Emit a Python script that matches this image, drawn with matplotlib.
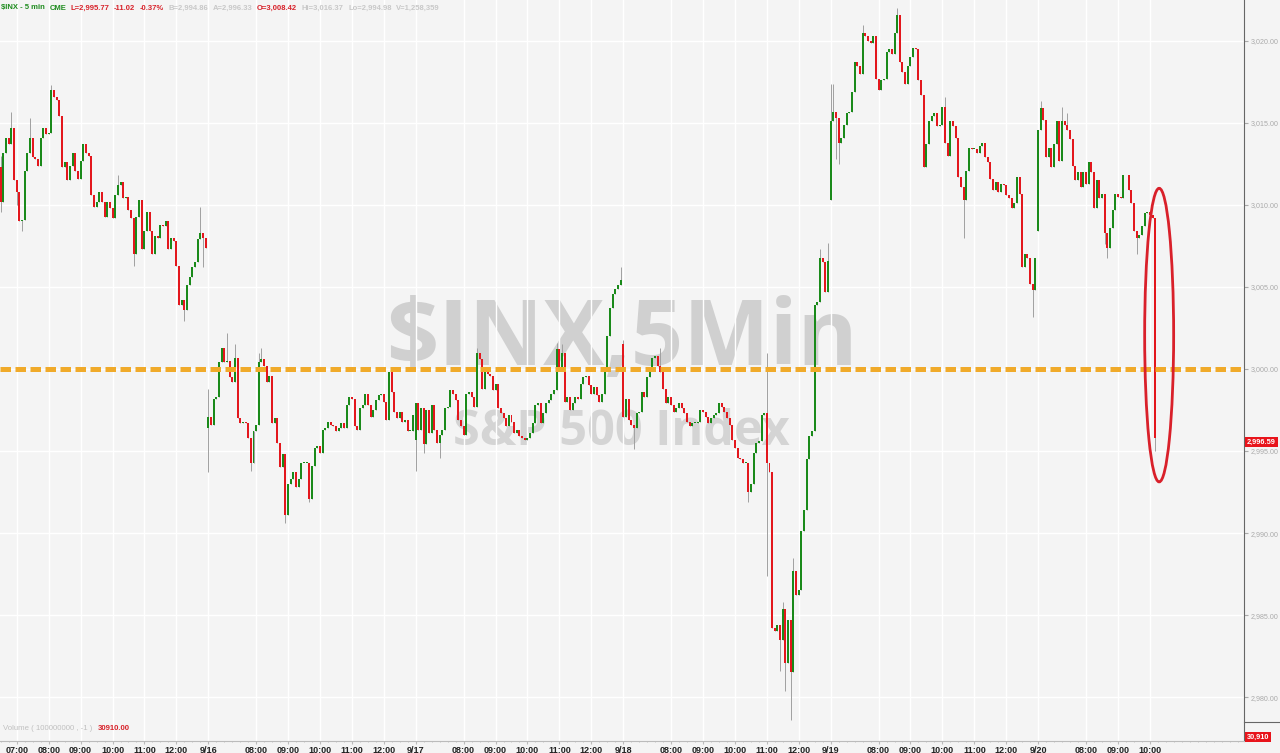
import numpy as np
import matplotlib.pyplot as plt
from matplotlib import font_manager
from matplotlib.patches import Ellipse
from matplotlib.lines import Line2D

plt.rcParams['font.family'] = ['Liberation Sans', 'DejaVu Sans']

# session labels and hour labels on the x axis
day_labels = ['9/13', '9/16', '9/17', '9/18', '9/19', '9/20']
hour_labels = ['07:00', '08:00', '09:00', '10:00', '11:00', '12:00']
hour_bar = [6, 18, 30, 42, 54, 66]   # 5-min bar number inside a session

# opening price of the first bar of each session
day_open = [3012.3, 2996.4, 2995.7, 3001.5, 3010.3, 3008.4]

# 5-min closes, one list per session
close_0913 = [3010.2, 3013.2, 3014.1, 3013.7, 3014.7, 3011.5, 3010.8, 3009.0, 3009.1, 3012.1,
              3013.2, 3014.1, 3012.9, 3012.8, 3012.4, 3014.1, 3014.7, 3014.3, 3014.4, 3017.0,
              3016.6, 3016.4, 3015.4, 3012.3, 3012.6, 3011.5, 3012.4, 3013.2, 3012.1, 3011.6,
              3012.7, 3013.7, 3013.2, 3013.0, 3010.6, 3009.9, 3010.2, 3010.8, 3010.2, 3009.3,
              3010.2, 3009.8, 3009.2, 3010.6, 3011.2, 3011.4, 3010.4, 3010.5, 3009.7, 3009.2,
              3007.0, 3009.3, 3010.3, 3007.3, 3008.4, 3009.6, 3008.4, 3007.0, 3008.1, 3008.0,
              3008.8, 3008.7, 3009.0, 3007.3, 3008.0, 3007.8, 3006.3, 3003.9, 3004.2, 3003.6,
              3005.1, 3005.6, 3006.2, 3006.5, 3007.9, 3008.3, 3008.0, 3007.4]
close_0916 = [2997.1, 2996.6, 2998.2, 2998.3, 3000.4, 3001.3, 3000.4, 3000.5, 2999.5, 2999.2,
              3000.7, 2997.0, 2996.7, 2996.8, 2996.7, 2995.8, 2994.3, 2996.2, 2996.6, 3000.4,
              3000.6, 3000.2, 2999.2, 2999.6, 2996.7, 2997.0, 2995.5, 2994.0, 2994.8, 2991.1,
              2993.0, 2993.3, 2993.7, 2992.8, 2993.3, 2994.3, 2994.3, 2994.3, 2992.1, 2994.1,
              2995.2, 2995.3, 2994.9, 2996.3, 2996.4, 2996.8, 2996.6, 2996.5, 2996.2, 2996.4,
              2996.7, 2996.4, 2997.8, 2998.3, 2998.2, 2996.5, 2996.3, 2997.6, 2997.8, 2998.5,
              2997.8, 2997.1, 2997.5, 2998.1, 2998.4, 2998.5, 2998.0, 2996.9, 2999.8, 2998.6,
              2997.4, 2997.0, 2997.4, 2996.8, 2996.9, 2996.2, 2996.2, 2997.2]
close_0917 = [2997.9, 2996.3, 2997.6, 2995.4, 2997.5, 2996.1, 2997.8, 2996.3, 2995.5, 2996.0,
              2996.3, 2997.6, 2997.7, 2998.7, 2998.5, 2998.1, 2996.9, 2996.5, 2996.0, 2998.5,
              2998.6, 2998.3, 2997.7, 3001.0, 3000.6, 2998.8, 3000.1, 2999.7, 2999.6, 2998.7,
              2999.1, 2997.6, 2997.3, 2997.0, 2996.5, 2997.2, 2996.8, 2996.1, 2996.3, 2995.9,
              2995.8, 2995.7, 2995.8, 2996.1, 2996.7, 2997.8, 2997.9, 2996.7, 2997.3, 2997.9,
              2998.1, 2998.5, 2998.7, 3001.2, 3000.0, 3001.0, 2998.0, 2998.3, 2997.5, 2997.9,
              2998.3, 2998.2, 2999.1, 2999.5, 2999.6, 2999.0, 2998.5, 2998.9, 2998.4, 2998.0,
              2998.5, 3000.1, 3002.0, 3003.7, 3004.6, 3004.9, 3005.1, 3005.4]
close_0918 = [2997.1, 2998.2, 2996.9, 2996.6, 2996.4, 2997.3, 2997.4, 2998.6, 2998.3, 2999.5,
              3000.1, 3000.7, 3000.8, 3000.2, 2999.8, 2998.8, 2997.9, 2998.3, 2997.8, 2997.4,
              2997.6, 2997.9, 2997.6, 2997.3, 2996.8, 2996.5, 2996.7, 2996.7, 2996.8, 2997.5,
              2997.4, 2997.1, 2996.7, 2997.0, 2997.2, 2997.3, 2997.9, 2997.7, 2997.4, 2997.0,
              2996.6, 2995.7, 2995.2, 2994.6, 2994.5, 2994.3, 2994.3, 2992.5, 2993.0, 2994.9,
              2995.5, 2995.6, 2997.2, 2997.3, 2994.3, 2993.7, 2984.2, 2984.0, 2984.4, 2983.5,
              2985.4, 2982.1, 2984.7, 2981.5, 2987.7, 2986.2, 2986.5, 2990.1, 2991.4, 2994.5,
              2995.9, 2996.2, 3003.9, 3004.1, 3006.8, 3006.5, 3004.7, 3006.6]
close_0919 = [3015.1, 3015.7, 3015.3, 3013.8, 3014.1, 3014.9, 3015.6, 3015.7, 3016.9, 3018.7,
              3018.5, 3018.0, 3020.5, 3020.3, 3020.0, 3019.9, 3020.3, 3017.7, 3017.0, 3017.6,
              3017.7, 3019.3, 3019.5, 3019.2, 3020.5, 3021.6, 3018.7, 3018.1, 3017.4, 3018.5,
              3019.0, 3019.6, 3019.5, 3017.6, 3016.7, 3012.3, 3013.7, 3015.1, 3015.4, 3015.6,
              3014.8, 3014.9, 3016.0, 3013.8, 3013.0, 3015.1, 3014.8, 3014.1, 3011.7, 3011.1,
              3010.3, 3012.1, 3013.5, 3013.4, 3013.4, 3013.2, 3013.6, 3013.8, 3012.9, 3012.6,
              3011.6, 3010.9, 3011.4, 3010.8, 3011.3, 3011.2, 3010.6, 3010.4, 3009.8, 3010.1,
              3011.7, 3010.7, 3006.2, 3007.0, 3006.8, 3005.2, 3004.8, 3006.8]
close_0920 = [3014.6, 3015.9, 3015.2, 3012.9, 3013.5, 3012.3, 3013.7, 3015.1, 3012.7, 3015.1,
              3014.9, 3014.6, 3014.0, 3012.4, 3011.5, 3012.0, 3011.1, 3012.0, 3011.3, 3012.6,
              3012.0, 3009.8, 3011.5, 3010.4, 3010.7, 3008.3, 3007.4, 3008.6, 3009.7, 3010.7,
              3010.5, 3010.4, 3011.8, 3011.8, 3010.9, 3010.1, 3008.4, 3008.0, 3008.2, 3008.7,
              3009.5, 3009.6, 3009.4, 3009.2, 2995.77]

# wicks that stick out beyond the body: (session, bar, price)
wick_highs = [(0, 0, 3013.0), (0, 4, 3015.7), (0, 11, 3015.3), (0, 19, 3017.3), (0, 44, 3011.8),
              (0, 75, 3009.9), (1, 0, 2998.8), (1, 7, 3002.2), (1, 10, 3001.5), (1, 19, 3001.0),
              (1, 20, 3001.3), (2, 23, 3001.3), (2, 53, 3001.6), (2, 55, 3001.5), (2, 77, 3006.2),
              (3, 0, 3001.8), (3, 14, 3001.3), (3, 54, 3001.0), (3, 60, 2985.8), (3, 64, 2988.5),
              (3, 74, 3007.3), (3, 77, 3007.7), (4, 0, 3017.4), (4, 1, 3017.4), (4, 12, 3021.0),
              (4, 25, 3022.0), (4, 43, 3016.6), (5, 1, 3016.37), (5, 9, 3016.0), (5, 11, 3015.6)]
wick_lows = [(0, 0, 3009.6), (0, 6, 3010.0), (0, 8, 3008.4), (0, 50, 3006.3), (0, 69, 3002.9),
             (0, 76, 3006.2), (1, 0, 2993.7), (1, 16, 2993.8), (1, 29, 2990.6), (1, 38, 2991.9),
             (2, 0, 2993.8), (2, 3, 2994.9), (2, 9, 2994.6), (3, 4, 2995.1), (3, 47, 2991.9),
             (3, 54, 2987.4), (3, 59, 2981.6), (3, 61, 2980.4), (3, 63, 2978.6), (4, 2, 3012.8),
             (4, 3, 3012.5), (4, 50, 3008.0), (4, 76, 3003.2), (5, 25, 3007.6), (5, 26, 3006.8),
             (5, 37, 3007.0), (5, 44, 2994.98)]

ref_level = 3000.0
last_label = '2,996.59'
volume_label = '30,910'

header_text = ['$INX - 5 min', 'CME', 'L=2,995.77', '-11.02', '-0.37%', 'B=2,994.86',
               'A=2,996.33', 'O=3,008.42', 'Hi=3,016.37', 'Lo=2,994.98', 'V=1,258,359']
header_col = ['#1e8c1e', '#1e8c1e', '#d8222a', '#d8222a', '#d8222a', '#c8c8c8',
              '#c8c8c8', '#d8222a', '#c8c8c8', '#c8c8c8', '#c8c8c8']

# narrow font for the small labels if it is there
names = {f.name for f in font_manager.fontManager.ttflist}
if 'Liberation Sans Narrow' in names:
    small_fam, hdr_fs, ytk_fs = 'Liberation Sans Narrow', 6.6, 6.0
else:
    small_fam, hdr_fs, ytk_fs = 'Liberation Sans', 5.5, 5.1

BARS = 78
W, H = 1280, 753
bg = '#f4f4f4'
green, red = '#1a8a1a', '#e3171d'

closes = [close_0913, close_0916, close_0917, close_0918, close_0919, close_0920]
xs, o_all, c_all = [], [], []
for d, cl in enumerate(closes):
    op = [day_open[d]] + cl[:-1]
    xs += [BARS * d + i for i in range(len(cl))]
    o_all += op
    c_all += cl
xs = np.array(xs, float)
o_all = np.array(o_all)
c_all = np.array(c_all)
hi = np.maximum(o_all, c_all)
lo = np.minimum(o_all, c_all)
for d, i, p in wick_highs:
    hi[BARS * d + i] = max(hi[BARS * d + i], p)
for d, i, p in wick_lows:
    lo[BARS * d + i] = min(lo[BARS * d + i], p)

fig = plt.figure(figsize=(W / 100, H / 100), dpi=100, facecolor=bg)
ax = fig.add_axes([0, 1 - 722 / H, 1244 / W, 722 / H], facecolor=bg)
axv = fig.add_axes([0, 1 - 741 / H, 1244 / W, 19 / H], facecolor=bg, sharex=ax)

ax.set_xlim(-0.31, 467.4)
ax.set_ylim(2978.48, 3022.5)

# watermark
ax.text(622 / W, 1 - 365 / H, '$INX,5Min', transform=fig.transFigure, ha='center', va='baseline',
        fontsize=66, fontweight='bold', family='Open Sans', color='#d0d0d0', zorder=0.5)
ax.text(621 / W, 1 - 445 / H, 'S&P 500 Index', transform=fig.transFigure, ha='center', va='baseline',
        fontsize=35, fontweight='bold', family='Open Sans', color='#d4d4d4', zorder=0.5)

# candles
ax.vlines(xs, lo, hi, color='#a0a0a0', lw=0.7, zorder=2)
body = c_all - o_all
body = np.where(np.abs(body) < 0.06, 0.06, body)
cols = [green if c >= o else red for o, c in zip(o_all, c_all)]
ax.bar(xs, body, bottom=o_all, width=0.75, color=cols, lw=0, zorder=3)

ax.axhline(ref_level, color='#f0aa2a', lw=3.6, dashes=(2.1, 0.9), zorder=4)
ax.add_patch(Ellipse((435.5, 3002.07), width=10.9, height=17.9, fill=False,
                     edgecolor='#d9202a', lw=2.0, zorder=5))

# x ticks
tick_pos, tick_lab = [], []
for d, lab in enumerate(day_labels):
    n = len(closes[d])
    if d > 0:
        tick_pos.append(BARS * d)
        tick_lab.append(lab)
    for hb, hl in zip(hour_bar, hour_labels):
        if d > 0 and hl == '07:00':
            continue
        if hb < n:
            tick_pos.append(BARS * d + hb)
            tick_lab.append(hl)

ax.set_xticks(tick_pos)
ax.tick_params(axis='x', length=0, labelbottom=False)
yt = np.arange(2980, 3021, 5)
ax.set_yticks(yt)
ax.yaxis.tick_right()
ax.set_yticklabels(['{:,.2f}'.format(v) for v in yt], family=small_fam)
ax.tick_params(axis='y', labelsize=ytk_fs, colors='#aaaaaa', length=3, pad=2)
ax.grid(color='white', lw=1.0, zorder=0)
for s in ['top', 'left', 'bottom']:
    ax.spines[s].set_visible(False)
ax.spines['right'].set_color('#666666')

axv.set_ylim(0, 1)
axv.set_yticks([])
axv.set_xticks(tick_pos)
axv.set_xticklabels(tick_lab)
axv.set_xticks(np.arange(0, 468, 3), minor=True)
axv.tick_params(axis='x', which='major', labelsize=6.5, colors='#bbbbbb', labelcolor='#222222',
                length=2, pad=1.5)
axv.tick_params(axis='x', which='minor', length=1, colors='#bbbbbb')
axv.grid(axis='x', color='white', lw=1.0)
for s in ['top', 'left']:
    axv.spines[s].set_visible(False)
axv.spines['bottom'].set_color('#bbbbbb')
axv.spines['right'].set_color('#666666')
for t in axv.get_xticklabels():
    t.set_fontweight('bold')

# header: items placed one after another
renderer = fig.canvas.get_renderer()
px = 1.0
for txt, col in zip(header_text, header_col):
    t = fig.text(px / W, 1 - 8 / H, txt, color=col, fontsize=hdr_fs, fontweight='bold', va='center',
                 ha='left', family=small_fam)
    px += t.get_window_extent(renderer).width + 4.5

fig.text(3 / W, 1 - 728 / H, 'Volume ( 100000000 , -1 )', color='#c0c0c0', fontsize=5.6, va='center')
fig.text(98 / W, 1 - 728 / H, '30910.00', color='#d8222a', fontsize=5.6, va='center', fontweight='bold')

fig.add_artist(Line2D([1244 / W, 1], [1 - 722 / H, 1 - 722 / H], color='#666666', lw=0.8))
fig.text(1247 / W, 1 - 442 / H, last_label, color='white', fontsize=ytk_fs + 0.2, fontweight='bold',
         va='center', family=small_fam, bbox=dict(facecolor='#e8141b', edgecolor='none', pad=1.2))
fig.text(1247 / W, 1 - 737 / H, volume_label, color='white', fontsize=ytk_fs + 0.2, fontweight='bold',
         va='center', family=small_fam, bbox=dict(facecolor='#e8141b', edgecolor='none', pad=1.2))

fig.savefig('out.png', dpi=100, facecolor=bg)
